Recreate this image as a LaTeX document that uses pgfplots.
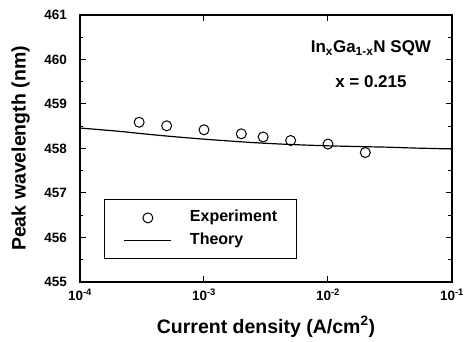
\documentclass[border=0pt]{standalone}
\usepackage{fontspec}
\setmainfont{Liberation Sans}
\usepackage{pgfplots}
\pgfplotsset{compat=1.18}
\newcommand{\tkfont}{\fontsize{13.5}{16}\selectfont\bfseries}
\pgfplotsset{
  mylegmark/.style={legend image code/.code={\draw[mark repeat=2,mark phase=2,##1] plot coordinates {(0pt,0pt)(23.5pt,0pt)(47pt,0pt)};}},
  myleglin/.style={legend image code/.code={\draw[##1] (0pt,0pt) -- (47pt,0pt);}},
}
\begin{document}
\begin{tikzpicture}
\begin{axis}[
 xmode=log, log basis x=10,
 scale only axis, width=372pt, height=267pt,
 xmin=1e-4, xmax=1e-1, ymin=455, ymax=461,
 xtick={1e-4,1e-3,1e-2,1e-1},
 xticklabels={\tkfont 10\textsuperscript{-4},\tkfont 10\textsuperscript{-3},\tkfont 10\textsuperscript{-2},\tkfont 10\textsuperscript{-1}},
 ytick={455,456,457,458,459,460,461},
 yticklabels={\tkfont 455,\tkfont 456,\tkfont 457,\tkfont 458,\tkfont 459,\tkfont 460,\tkfont 461},
 minor y tick num=1,
 tick align=inside,
 major tick length=6pt, minor tick length=3.5pt,
 axis line style={line width=1.5pt},
 every tick/.style={black, line width=1pt},
 yticklabel style={xshift=-9.5pt},
 xticklabel style={yshift=-3pt},
 label style={font=\fontsize{19.5}{22}\selectfont\bfseries},
 xlabel={Current density (A/cm\textsuperscript{2})},
 ylabel={Peak wavelength (nm)},
 xlabel style={at={(axis description cs:0.5,-0.1685)}, anchor=center},
 ylabel style={at={(axis description cs:-0.1594,0.5)}, anchor=center},
 legend cell align=left,
 legend style={at={(0,0)}, anchor=south west, xshift=24.3pt, yshift=22.6pt,
   draw=black, line width=1pt, inner xsep=19pt, inner ysep=10.5pt,
   row sep=8pt, column sep=18pt,
   nodes={inner sep=0pt, text height=11.5pt, text depth=3.5pt},
   font=\fontsize{16}{19}\selectfont\bfseries},
]
\addplot[only marks, mark=o, mark size=5pt, mark options={line width=1pt, black}, mylegmark]
 coordinates {(3e-4,458.59) (5e-4,458.51) (1e-3,458.42) (2e-3,458.33) (3e-3,458.26) (5e-3,458.18) (1e-2,458.10) (2e-2,457.91)};
\addlegendentry{Experiment}
\addplot[black, line width=1.2pt, smooth, myleglin]
 coordinates {(1e-4,458.46) (2e-4,458.39) (3e-4,458.34) (5e-4,458.28) (1e-3,458.21) (2e-3,458.15) (3e-3,458.12) (5e-3,458.09) (1e-2,458.06) (2e-2,458.04) (3e-2,458.03) (5e-2,458.01) (1e-1,457.99)};
\addlegendentry{Theory}
\node[anchor=base, font=\fontsize{17}{20}\selectfont\bfseries] at (axis cs:0.0222,460.15) {In\textsubscript{x}Ga\textsubscript{1-x}N SQW};
\node[anchor=base, font=\fontsize{17}{20}\selectfont\bfseries] at (axis cs:0.0222,459.38) {x = 0.215};
\end{axis}
\pgfresetboundingbox
\path ([shift={(-80pt,-60pt)}]current axis.south west) rectangle ([shift={(14pt,15pt)}]current axis.north east);
\end{tikzpicture}
\end{document}
